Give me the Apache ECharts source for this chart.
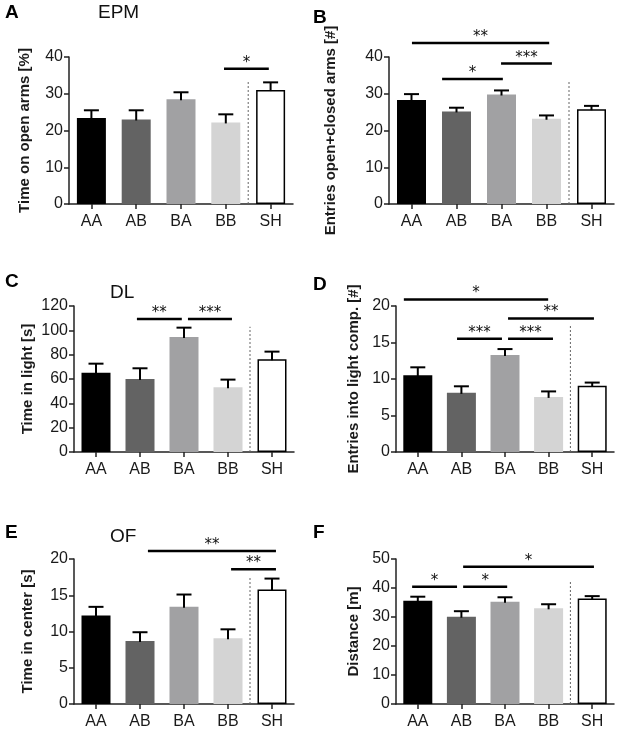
<!DOCTYPE html>
<html><head><meta charset="utf-8">
<script src="https://cdn.jsdelivr.net/npm/echarts@6/dist/echarts.min.js"></script>
<style>html,body{margin:0;padding:0;background:#fff}#c{width:620px;height:729px}</style>
</head><body><div id="c"></div>
<script>
// ---- data ----
const categories = ['AA', 'AB', 'BA', 'BB', 'SH'];
const epmTimeMean = [23.4, 23.0, 28.5, 22.2, 31.0];
const epmTimeSem  = [2.1, 2.5, 1.9, 2.2, 2.1];
const epmEntriesMean = [28.3, 25.2, 29.8, 23.2, 25.8];
const epmEntriesSem  = [1.6, 1.0, 1.1, 0.9, 0.9];
const dlTimeMean = [65.2, 60.0, 94.5, 53.2, 76.2];
const dlTimeSem  = [7.4, 8.8, 7.7, 6.3, 6.3];
const dlEntriesMean = [10.5, 8.1, 13.3, 7.55, 9.06];
const dlEntriesSem  = [1.1, 0.9, 0.8, 0.75, 0.45];
const ofTimeMean = [12.2, 8.7, 13.4, 9.06, 15.8];
const ofTimeSem  = [1.2, 1.2, 1.7, 1.24, 1.5];
const ofDistMean = [35.6, 30.1, 35.3, 33.0, 36.4];
const ofDistSem  = [1.4, 1.9, 1.5, 1.4, 0.8];
// significance brackets: [from (category units), to, level (data units), label]
const sigA = [[2.96, 3.96, 36.8, '*']];
const sigB = [[0.01, 3.06, 43.8, '**'], [1.99, 3.12, 38.2, '***'], [0.68, 2.03, 34.0, '*']];
const sigC = [[0.93, 1.95, 109.3, '**'], [2.09, 3.09, 109.3, '***']];
const sigD = [[-0.32, 2.99, 20.9, '*'], [2.07, 4.04, 18.3, '**'], [0.90, 1.93, 15.5, '***'], [2.07, 3.10, 15.5, '***']];
const sigE = [[1.18, 4.09, 21.1, '**'], [3.07, 4.09, 18.6, '**']];
const sigF = [[-0.13, 0.90, 40.4, '*'], [1.04, 2.05, 40.4, '*'], [1.04, 4.04, 47.3, '*']];
const dividerTops = [33.7, 33.7, 103, 17.3, 17.5, 42.8];

// ---- styles / layout ----
const FONT = '"Liberation Sans", Arial, sans-serif';
const barColors = ['#000000', '#636363', '#a1a1a3', '#d4d4d4', '#ffffff'];
const AXIS = '#222';

const panels = [
  {letter: 'A', title: 'EPM', yName: 'Time on open arms [%]', mean: epmTimeMean, sem: epmTimeSem, sig: sigA, max: 40, interval: 10,
   grid: {left: 69, top: 57, width: 224, height: 147}, nameGap: 37, letterPos: [5, 13.5], titlePos: [98, 13.5]},
  {letter: 'B', title: '', yName: 'Entries open+closed arms [#]', mean: epmEntriesMean, sem: epmEntriesSem, sig: sigB, max: 40, interval: 10,
   grid: {left: 389, top: 57, width: 225, height: 147}, nameGap: 51, letterPos: [313, 18.5]},
  {letter: 'C', title: 'DL', yName: 'Time in light [s]', mean: dlTimeMean, sem: dlTimeSem, sig: sigC, max: 120, interval: 20,
   grid: {left: 74, top: 306, width: 220, height: 146}, nameGap: 39, letterPos: [5, 282.5], titlePos: [110, 293.5]},
  {letter: 'D', title: '', yName: 'Entries into light comp. [#]', mean: dlEntriesMean, sem: dlEntriesSem, sig: sigD, max: 20, interval: 5,
   grid: {left: 396, top: 306, width: 218, height: 146}, nameGap: 35, letterPos: [313, 285]},
  {letter: 'E', title: 'OF', yName: 'Time in center [s]', mean: ofTimeMean, sem: ofTimeSem, sig: sigE, max: 20, interval: 5,
   grid: {left: 74, top: 559, width: 220, height: 145}, nameGap: 39, letterPos: [5, 533.5], titlePos: [110, 537]},
  {letter: 'F', title: '', yName: 'Distance [m]', mean: ofDistMean, sem: ofDistSem, sig: sigF, max: 50, interval: 10,
   grid: {left: 396, top: 559, width: 218, height: 145}, nameGap: 35, letterPos: [313, 533.5]}
];

const grids = [], xAxes = [], yAxes = [], series = [], graphics = [];
panels.forEach((p, k) => {
  grids.push(Object.assign({outerBoundsMode: 'none', containLabel: false}, p.grid));
  xAxes.push({
    type: 'category', gridIndex: k, data: categories,
    axisLine: {show: true, onZero: false, lineStyle: {color: AXIS, width: 1.5}},
    axisTick: {show: true, alignWithLabel: true, length: 5, lineStyle: {color: AXIS, width: 1.5}},
    axisLabel: {fontSize: 16, color: '#1a1a1a', margin: 10, fontFamily: FONT},
    splitLine: {show: false}
  });
  xAxes.push({type: 'value', gridIndex: k, show: false, min: -0.5, max: 4.5,
    axisLine: {show: false, onZero: false}});
  yAxes.push({
    type: 'value', gridIndex: k, min: 0, max: p.max, interval: p.interval,
    axisLine: {show: true, onZero: false, lineStyle: {color: AXIS, width: 1.5}},
    axisTick: {show: true, length: 5, lineStyle: {color: AXIS, width: 1.5}},
    axisLabel: {fontSize: 16, color: '#1a1a1a', margin: 6, fontFamily: FONT},
    splitLine: {show: false},
    name: p.yName, nameLocation: 'middle', nameGap: p.nameGap,
    nameTextStyle: {fontSize: 15, fontWeight: 'bold', color: '#1a1a1a', fontFamily: FONT}
  });
  series.push({
    type: 'bar', xAxisIndex: 2 * k, yAxisIndex: k, barWidth: 29, silent: true,
    data: p.mean.map((v, i) => ({
      value: v,
      itemStyle: {color: barColors[i], borderColor: i === 4 ? '#000' : barColors[i], borderWidth: i === 4 ? 1.5 : 0}
    }))
  });
  series.push({
    type: 'custom', xAxisIndex: 2 * k, yAxisIndex: k, silent: true, z: 3,
    encode: {x: 0, y: 1},
    data: p.mean.map((v, i) => [i, v, p.sem[i]]),
    renderItem: (params, api) => {
      const x = api.value(0), m = api.value(1), s = api.value(2);
      const b = api.coord([x, m]), t = api.coord([x, m + s]);
      return {type: 'group', children: [
        {type: 'line', shape: {x1: b[0], y1: b[1] + 1, x2: t[0], y2: t[1]}, style: {stroke: '#000', lineWidth: 2}},
        {type: 'line', shape: {x1: t[0] - 7.5, y1: t[1], x2: t[0] + 7.5, y2: t[1]}, style: {stroke: '#000', lineWidth: 2}}
      ]};
    }
  });
  series.push({
    type: 'custom', xAxisIndex: 2 * k + 1, yAxisIndex: k, silent: true, clip: false, z: 3,
    encode: {x: [0, 1], y: 2},
    data: p.sig.map(s => [s[0], s[1], s[2]]),
    renderItem: (params, api) => {
      const lab = p.sig[params.dataIndex][3];
      const a = api.coord([api.value(0), api.value(2)]);
      const b = api.coord([api.value(1), api.value(2)]);
      return {type: 'group', children: [
        {type: 'line', shape: {x1: a[0], y1: a[1], x2: b[0], y2: b[1]}, style: {stroke: '#000', lineWidth: 2.5}},
        {type: 'text', style: {text: lab, x: (a[0] + b[0]) / 2, y: a[1] - 6, align: 'center', verticalAlign: 'middle',
          fontSize: 15, fontFamily: '"DejaVu Sans", sans-serif', fill: '#111'}}
      ]};
    }
  });
  series.push({
    type: 'custom', xAxisIndex: 2 * k + 1, yAxisIndex: k, silent: true, clip: false, z: 2,
    encode: {x: 0, y: 1},
    data: [[3.5, dividerTops[k]]],
    renderItem: (params, api) => {
      const a = api.coord([api.value(0), 0]);
      const b = api.coord([api.value(0), api.value(1)]);
      return {type: 'line', shape: {x1: a[0], y1: a[1], x2: b[0], y2: b[1]},
        style: {stroke: '#666', lineWidth: 1, lineDash: [2, 2]}};
    }
  });
  graphics.push({type: 'text', left: p.letterPos[0], top: p.letterPos[1] - 10,
    style: {text: p.letter, fontSize: 19, fontWeight: 'bold', fontFamily: FONT, fill: '#000'}});
  if (p.title) {
    graphics.push({type: 'text', left: p.titlePos[0], top: p.titlePos[1] - 10,
      style: {text: p.title, fontSize: 19, fontFamily: FONT, fill: '#111'}});
  }
});

const chart = echarts.init(document.getElementById('c'), null, {renderer: 'canvas'});
chart.setOption({
  animation: false,
  backgroundColor: '#fff',
  grid: grids, xAxis: xAxes, yAxis: yAxes, series: series, graphic: graphics
});
</script>
</body></html>
